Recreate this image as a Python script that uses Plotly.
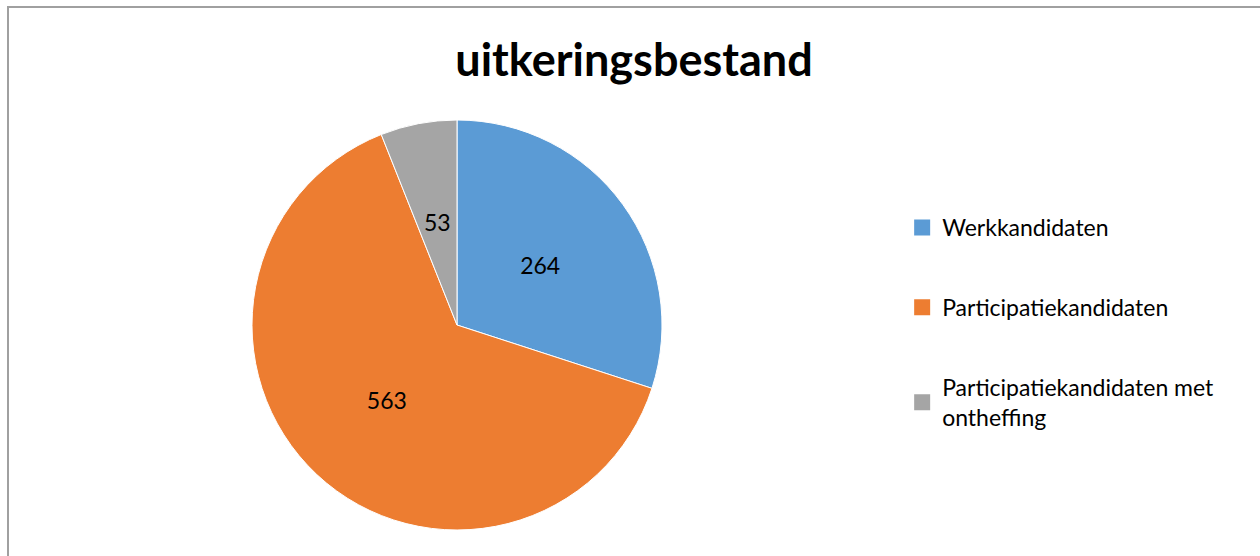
import plotly.graph_objects as go

# data
categories = ["Werkkandidaten", "Participatiekandidaten", "Participatiekandidaten met ontheffing"]
legend_names = ["Werkkandidaten", "Participatiekandidaten", "Participatiekandidaten met<br>ontheffing"]
values = [264, 563, 53]
colors = ["#5B9BD5", "#ED7D31", "#A5A5A5"]

W, H = 1260, 556
FONT = "Lato, 'Open Sans', sans-serif"
CX, CY, R = 457, 325, 205


def label_pie(radius, show, slice_colors=None):
    # pie of given radius around the same centre; only slices in `show` get a value label
    return go.Pie(
        labels=categories,
        values=values,
        sort=False,
        direction="clockwise",
        rotation=0,
        marker=dict(colors=slice_colors or ["rgba(0,0,0,0)"] * 3,
                    line=dict(color="white", width=1 if slice_colors else 0)),
        texttemplate=["%{value}" if i in show else "" for i in range(3)],
        textposition="inside",
        insidetextorientation="horizontal",
        textfont=dict(size=23, color="black", family=FONT),
        showlegend=False,
        hoverinfo="label+value" if slice_colors else "skip",
        domain=dict(x=[(CX - radius) / W, (CX + radius) / W],
                    y=[(H - CY - radius) / H, (H - CY + radius) / H]),
    )


fig = go.Figure()
fig.add_trace(label_pie(R, {1}, colors))   # the real pie
fig.add_trace(label_pie(186, {0}))         # label positions closer to Excel's
fig.add_trace(label_pie(124, {2}))

# legend entries as dummy traces so the gaps can match the original
for i, (name, c) in enumerate(zip(legend_names, colors)):
    fig.add_trace(go.Scatter(
        x=[None], y=[None], mode="markers", name=name,
        marker=dict(symbol="square", size=16, color=c),
        legendgroup=f"g{i}", showlegend=True,
    ))

fig.update_layout(
    width=W, height=H,
    margin=dict(l=0, r=0, t=0, b=0),
    paper_bgcolor="white",
    plot_bgcolor="white",
    title=dict(text="<b>uitkeringsbestand</b>", x=634 / W, xanchor="center",
               y=1 - 60 / H, yanchor="middle",
               font=dict(size=45, color="black", family=FONT)),
    xaxis=dict(visible=False),
    yaxis=dict(visible=False),
    legend=dict(x=0.716, y=1 - 206 / H, xanchor="left", yanchor="top",
                font=dict(size=23, color="black", family=FONT),
                tracegroupgap=47, itemwidth=30,
                bgcolor="rgba(0,0,0,0)"),
    shapes=[dict(type="path", xref="paper", yref="paper",
                 path=f"M {8/W} 0 L {8/W} {1-7/H} L 1 {1-7/H}",
                 line=dict(color="#A0A0A0", width=2))],
)

fig.write_html("out.html", config={"displayModeBar": False},
               post_script="document.body.style.margin='0';")
